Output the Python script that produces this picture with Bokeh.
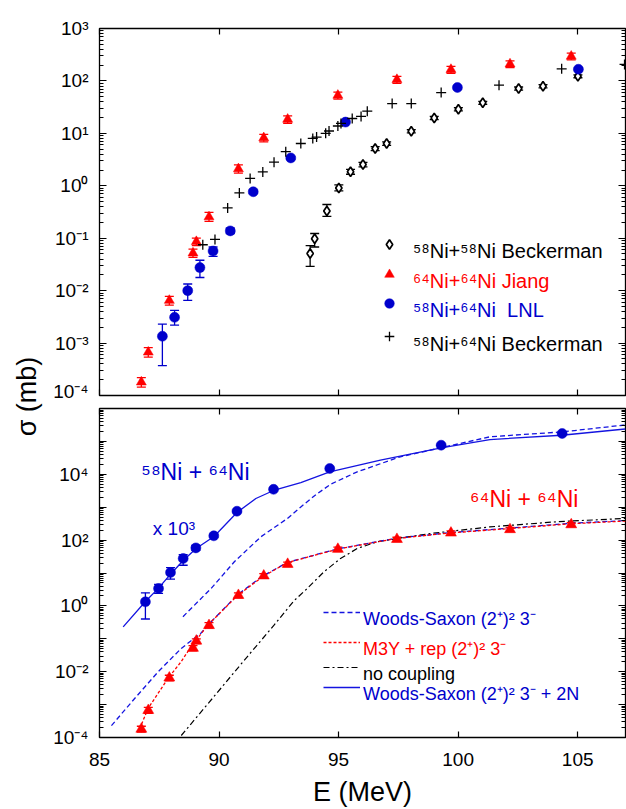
import numpy as np
from bokeh.plotting import figure
from bokeh.layouts import row, column
from bokeh.models import (ColumnDataSource, Whisker, TeeHead, FixedTicker, LinearAxis, LogAxis,
                          CustomJSTickFormatter, Legend, LegendItem, Range1d, Label)
from bokeh.core.properties import value
from bokeh.embed import file_html
from bokeh.resources import INLINE

FONT = "Liberation Sans"
BLUE = "#0000cc"
LINE_BLUE = "#1414e0"
RED = "#ff0000"
BLACK = "#000000"

# ---------------- upper panel: measured fusion cross sections (mb) ----------------
e_5858 = [93.81, 94.00, 94.51, 95.01, 95.50, 96.02, 96.53, 97.01, 98.04, 99.00,
          100.01, 101.03, 102.53, 103.55, 105.01]
s_5858 = [0.051, 0.098, 0.33, 0.91, 1.85, 2.55, 5.15, 6.4, 11.0, 19.7,
          28.9, 38.3, 71.8, 79.4, 123]
lo_5858 = [0.029, 0.068, 0.26, 0.80, 1.66, 2.30, 4.70, 5.9, 10.2, 18.3,
           26.9, 35.7, 67.0, 74.0, 115]
hi_5858 = [0.072, 0.123, 0.44, 1.04, 2.05, 2.80, 5.60, 6.9, 11.8, 21.1,
           30.9, 40.9, 76.6, 84.8, 131]

e_6464 = [86.75, 87.04, 87.92, 88.91, 89.05, 89.58, 90.81, 91.87, 92.87, 94.97,
          97.44, 99.70, 102.17, 104.73]
s_6464 = [1.8e-4, 6.7e-4, 6.5e-3, 0.052, 0.086, 0.255, 2.1, 8.2, 18.5, 53,
          106, 165, 210, 295]
lo_6464 = [1.45e-4, 5.4e-4, 5.3e-3, 0.043, 0.072, 0.21, 1.75, 6.9, 15.6, 45,
           90, 140, 180, 252]
hi_6464 = [2.2e-4, 8.2e-4, 7.8e-3, 0.062, 0.100, 0.31, 2.5, 9.6, 21.5, 61,
           122, 190, 242, 340]

e_lnl = [87.63, 88.14, 88.69, 89.20, 89.75, 90.47, 91.43, 93.00, 95.29, 99.97, 105.03]
s_lnl = [1.35e-3, 3.1e-3, 0.0100, 0.0275, 0.057, 0.138, 0.77, 3.4, 16.4, 75, 167]
lo_lnl = [3.7e-4, 2.2e-3, 0.0065, 0.0178, 0.045, 0.122, 0.71, 3.2, 15.5, 71, 158]
hi_lnl = [2.3e-3, 4.2e-3, 0.0134, 0.038, 0.068, 0.156, 0.83, 3.6, 17.3, 79, 176]

e_beck = [89.32, 89.83, 90.36, 90.85, 91.30, 91.83, 92.30, 92.79, 93.42, 93.92,
          94.08, 94.46, 94.60, 94.97, 95.10, 95.57, 95.94, 96.20, 97.24, 98.04,
          99.29, 101.71, 104.33, 106.96]
s_beck = [0.075, 0.095, 0.378, 0.73, 1.38, 1.84, 2.82, 4.48, 6.4, 8.0,
          8.5, 10.0, 11.1, 13.8, 15.5, 19.2, 21.0, 26.5, 37, 37,
          60, 83, 170, 206]

# ---------------- lower panel: 58Ni+64Ni scaled by 10^3, 64Ni+64Ni, and calculations ----------------
e_lnl_x = [86.92, 87.47, 87.97, 88.50, 89.03, 89.78, 90.75, 92.28, 94.63, 99.29, 104.35]
s_lnl_x = [1.33, 3.38, 10.4, 27.6, 58, 135, 755, 3.5e3, 1.5e4, 7.66e4, 1.74e5]
lo_lnl_x = [0.40, 2.4, 6.5, 17.2, 49, 123, 700, 3.3e3, 1.42e4, 7.3e4, 1.66e5]
hi_lnl_x = [2.5, 4.5, 14.5, 36, 68, 150, 815, 3.7e3, 1.58e4, 8.0e4, 1.82e5]

# Woods-Saxon (2+)^2 3- + 2N, 58Ni+64Ni (x10^3)
e_ws2n = [85.99, 86.92, 87.46, 88.00, 88.50, 89.04, 89.79, 90.75, 91.54, 92.28,
          93.42, 94.63, 96.75, 99.29, 101.33, 104.33, 106.88, 107.0]
s_ws2n = [0.23, 1.36, 3.4, 9.7, 24, 55.6, 129, 692, 1840, 3220,
          5620, 1.19e4, 2.69e4, 6.4e4, 1.14e5, 1.54e5, 2.34e5, 2.38e5]

# Woods-Saxon (2+)^2 3-, 58Ni+64Ni (x10^3)
e_ws58 = [88.49, 89.67, 90.64, 91.75, 92.86, 93.42, 94.05, 94.67, 95.78, 97.58, 98.83,
          101.33, 104.39, 106.89, 107.0]
s_ws58 = [0.47, 3.4, 21.9, 126, 454, 1020, 2400, 5000, 1.19e4, 3.4e4, 5.4e4,
          1.38e5, 1.96e5, 3.1e5, 3.15e5]

# Woods-Saxon (2+)^2 3-, 64Ni+64Ni
e_ws64 = [85.50, 86.47, 87.45, 88.42, 89.25, 89.53, 90.78, 91.82, 92.86, 94.95,
          97.42, 99.71, 102.17, 104.71, 106.89, 107.0]
s_ws64 = [2.3e-4, 1.53e-3, 9.9e-3, 0.051, 0.15, 0.26, 2.2, 8.0, 21, 54,
          114, 170, 232, 325, 390, 394]

# M3Y + repulsion (2+)^2 3-, 64Ni+64Ni
e_m3y = [86.68, 87.03, 87.86, 88.42, 88.83, 89.53, 90.78, 91.82, 92.86, 94.95,
         97.42, 99.71, 102.17, 104.71, 106.89, 107.0]
s_m3y = [1.84e-4, 7.6e-4, 6.2e-3, 0.0204, 0.058, 0.26, 2.1, 7.7, 20.8, 53,
         112, 166, 225, 313, 376, 380]

# no coupling, 64Ni+64Ni
e_noc = [88.42, 89.80, 91.05, 92.30, 93.14, 93.69, 94.39, 95.08, 95.78, 96.61,
         97.44, 98.83, 101.33, 104.10, 106.89, 107.0]
s_noc = [1.15e-4, 1.8e-3, 0.022, 0.26, 1.45, 3.4, 10.9, 27.6, 55.6, 89,
         112, 158, 252, 360, 454, 458]

# ---------------- ticks ----------------
x_ticks = [85, 90, 95, 100, 105]
top_decades = list(range(-4, 4))
bot_decades = list(range(-4, 7))

SUP_JS = """
const sup = {"0":"\u2070","1":"\u00b9","2":"\u00b2","3":"\u00b3","4":"\u2074",
             "5":"\u2075","6":"\u2076","7":"\u2077","8":"\u2078","9":"\u2079","-":"\u207b"};
const k = Math.round(Math.log10(tick));
%s
let s = "";
for (const c of String(k)) s += sup[c];
return "10" + s;
"""


def log_ticker(decades):
    major = [10.0 ** k for k in decades]
    minor = [m * 10.0 ** k for k in decades[:-1] for m in range(2, 10)]
    return FixedTicker(ticks=major, minor_ticks=minor)


def style_axis(ax, minor=True):
    ax.axis_line_color = None
    ax.major_tick_in = 7
    ax.major_tick_out = 0
    ax.major_tick_line_width = 1.2
    ax.major_tick_line_color = BLACK
    if minor:
        ax.minor_tick_in = 4
        ax.minor_tick_out = 0
        ax.minor_tick_line_width = 1.0
        ax.minor_tick_line_color = BLACK
    else:
        ax.minor_tick_line_color = None
    ax.major_label_text_font = FONT
    ax.major_label_text_font_size = "19px"
    ax.major_label_text_color = BLACK


def bare_axis(ax):
    # tick marks only: labels are blank and take no room
    ax.formatter = CustomJSTickFormatter(code="return '';")
    ax.major_label_text_font_size = "1px"
    ax.major_label_standoff = 0


def base_figure(height, top, bottom, yr):
    p = figure(width=576, height=height, x_range=Range1d(85, 107), y_range=yr,
               y_axis_type="log", x_axis_location=None, output_backend="svg",
               toolbar_location=None, min_border_left=48, min_border_right=1,
               min_border_top=top, min_border_bottom=bottom)
    p.outline_line_color = BLACK
    p.outline_line_width = 1.3
    p.grid.visible = False
    p.background_fill_color = "white"
    p.border_fill_color = "white"
    return p


LEGEND_STYLE = dict(padding=0, margin=0, spacing=0, border_line_color=None,
                    background_fill_alpha=0, label_text_font=FONT, label_standoff=0)


def legend_entry(p, renderer, label, color, font_px, glyph_cx, glyph_cy, gw, gh,
                 text_x, text_baseline, frame_left, frame_bottom):
    # sample glyph, centred on (glyph_cx, glyph_cy)
    p.add_layout(Legend(items=[LegendItem(label="", renderers=[renderer])],
                        location=(int(round(glyph_cx - gw / 2 - frame_left)),
                                  int(round(frame_bottom - glyph_cy - gh / 2))),
                        glyph_width=gw, glyph_height=gh, label_height=gh,
                        label_text_font_size=f"{font_px}px", **LEGEND_STYLE))
    # its label, set on its own baseline a little below the sample
    row_h = int(round(font_px * 1.25))
    mid = text_baseline - 0.33 * font_px
    p.add_layout(Legend(items=[LegendItem(label=label, renderers=[renderer])],
                        location=(int(round(text_x - frame_left)),
                                  int(round(frame_bottom - mid - row_h / 2))),
                        glyph_width=0, glyph_height=row_h, label_height=row_h,
                        label_text_font_size=f"{font_px}px", label_text_color=color,
                        **LEGEND_STYLE))


def error_bars(p, e, lo, hi, color):
    src = ColumnDataSource(dict(e=e, lo=lo, hi=hi))
    w = Whisker(source=src, base="e", lower="lo", upper="hi", dimension="height",
                line_color=color, line_width=1.3,
                upper_head=TeeHead(size=9, line_color=color, line_width=1.3),
                lower_head=TeeHead(size=9, line_color=color, line_width=1.3))
    p.add_layout(w)


# ================= upper panel =================
p1 = base_figure(401, 28, 6, Range1d(1e-4, 1e3))
yl = p1.yaxis[0]
yl.ticker = log_ticker(top_decades)
yl.formatter = CustomJSTickFormatter(code=SUP_JS % "")
style_axis(yl)
yl.major_label_standoff = 11
yr_ax = LogAxis(ticker=log_ticker(top_decades))
style_axis(yr_ax)
bare_axis(yr_ax)
p1.add_layout(yr_ax, "right")
for loc in ("below", "above"):
    ax = LinearAxis(ticker=FixedTicker(ticks=x_ticks))
    style_axis(ax, minor=False)
    ax.major_tick_in = 6
    bare_axis(ax)
    p1.add_layout(ax, loc)

error_bars(p1, e_5858, lo_5858, hi_5858, BLACK)
error_bars(p1, e_6464, lo_6464, hi_6464, RED)
error_bars(p1, e_lnl, lo_lnl, hi_lnl, BLUE)

r_5858 = p1.scatter(e_5858, s_5858, marker="diamond", size=9.5,
                    fill_color="white", line_color=BLACK, line_width=1.7)
r_6464 = p1.scatter(e_6464, s_6464, marker="triangle", size=10,
                    fill_color=RED, line_color=RED, line_width=0.5)
r_lnl = p1.scatter(e_lnl, s_lnl, marker="circle", size=10,
                   fill_color=BLUE, line_color=BLUE, line_width=0.5)
r_beck = p1.scatter(e_beck, s_beck, marker="cross", size=10,
                    line_color=BLACK, line_width=1.3)

legend_entry(p1, r_5858, "\u2075\u2078Ni+\u2075\u2078Ni Beckerman", BLACK, 20,
             388, 244, 24, 24, 412, 258, 98, 395)
legend_entry(p1, r_6464, "\u2076\u2074Ni+\u2076\u2074Ni Jiang", RED, 20,
             388, 274, 24, 24, 412, 288, 98, 395)
legend_entry(p1, r_lnl, "\u2075\u2078Ni+\u2076\u2074Ni  LNL", BLUE, 20,
             388, 303, 24, 24, 412, 317, 98, 395)
legend_entry(p1, r_beck, "\u2075\u2078Ni+\u2076\u2074Ni Beckerman", BLACK, 20,
             388, 336, 24, 24, 412, 351, 98, 395)

# ================= lower panel =================
p2 = base_figure(408, 7, 72, Range1d(1e-4, 1e6))
yl2 = p2.yaxis[0]
yl2.ticker = log_ticker(bot_decades)
yl2.formatter = CustomJSTickFormatter(code=SUP_JS % "if (k % 2 !== 0 || k > 4) return '';")
style_axis(yl2)
yl2.major_label_standoff = 11
yr2 = LogAxis(ticker=log_ticker(bot_decades))
style_axis(yr2)
bare_axis(yr2)
p2.add_layout(yr2, "right")

xb = LinearAxis(ticker=FixedTicker(ticks=x_ticks), axis_label="E (MeV)")
style_axis(xb, minor=False)
xb.major_tick_in = 6
xb.major_label_standoff = 15
xb.axis_label_standoff = 8
xb.axis_label_text_font = FONT
xb.axis_label_text_font_size = "27px"
xb.axis_label_text_font_style = "normal"
xb.axis_label_text_color = BLACK
p2.add_layout(xb, "below")
xa = LinearAxis(ticker=FixedTicker(ticks=x_ticks))
style_axis(xa, minor=False)
xa.major_tick_in = 6
bare_axis(xa)
p2.add_layout(xa, "above")

r_noc = p2.line(e_noc, s_noc, line_color=BLACK, line_width=1.2, line_dash="6 3 2 3")
r_ws64 = p2.line(e_ws64, s_ws64, line_color=LINE_BLUE, line_width=1.3, line_dash="5 3")
r_m3y = p2.line(e_m3y, s_m3y, line_color=RED, line_width=1.3, line_dash="3 2")
r_ws58 = p2.line(e_ws58, s_ws58, line_color=LINE_BLUE, line_width=1.3, line_dash="5 3")
r_ws2n = p2.line(e_ws2n, s_ws2n, line_color=LINE_BLUE, line_width=1.3)

error_bars(p2, e_6464, lo_6464, hi_6464, RED)
error_bars(p2, e_lnl_x, lo_lnl_x, hi_lnl_x, BLUE)
p2.scatter(e_6464, s_6464, marker="triangle", size=11,
           fill_color=RED, line_color=RED, line_width=0.5)
p2.scatter(e_lnl_x, s_lnl_x, marker="circle", size=10,
           fill_color=BLUE, line_color=BLUE, line_width=0.5)

p2.add_layout(Label(x=86.75, y=1.2e4, text="\u2075\u2078Ni + \u2076\u2074Ni",
                    text_font=FONT, text_font_size="23px", text_color=BLUE,
                    text_baseline="alphabetic"))
p2.add_layout(Label(x=87.23, y=220, text="x 10\u00b3",
                    text_font=FONT, text_font_size="19px", text_color=BLUE,
                    text_baseline="alphabetic"))
p2.add_layout(Label(x=100.5, y=1.75e3, text="\u2076\u2074Ni + \u2076\u2074Ni",
                    text_font=FONT, text_font_size="23px", text_color=RED,
                    text_baseline="alphabetic"))

legend_entry(p2, r_ws58, "Woods-Saxon (2\u207a)\u00b2 3\u207b", BLUE, 18,
             340, 612, 37, 22, 362, 625, 98, 737)
legend_entry(p2, r_m3y, "M3Y + rep (2\u207a)\u00b2 3\u207b", RED, 18,
             340, 642, 37, 22, 362, 655, 98, 737)
legend_entry(p2, r_noc, "no coupling", BLACK, 18,
             340, 667, 37, 22, 362, 680, 98, 737)
legend_entry(p2, r_ws2n, "Woods-Saxon (2\u207a)\u00b2 3\u207b + 2N", BLUE, 18,
             340, 687, 37, 22, 362, 700, 98, 737)

# ================= shared y-axis title =================
pt = figure(width=50, height=809, x_range=Range1d(0, 50), y_range=Range1d(0, 809),
            x_axis_location=None, y_axis_location=None, output_backend="svg",
            toolbar_location=None, min_border=0)
pt.outline_line_color = None
pt.grid.visible = False
pt.text(x=[26], y=[809 - 396], text=["\u03c3 (mb)"], angle=np.pi / 2,
        text_align="center", text_baseline="middle", text_font=value(FONT),
        text_font_size="27px", text_color=BLACK)

layout = row(pt, column(p1, p2, spacing=0), spacing=0)
open("out.html", "w").write(file_html(layout, INLINE))
